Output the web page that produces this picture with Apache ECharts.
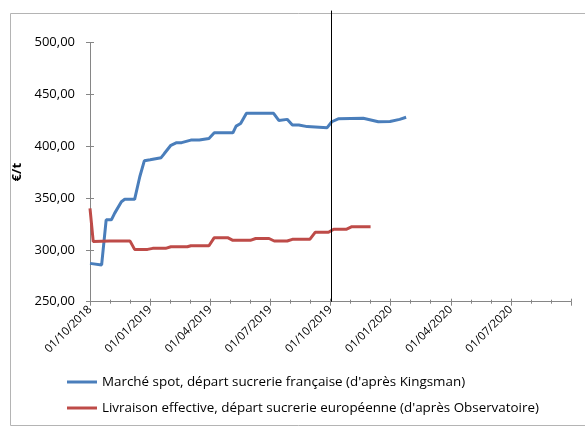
<!DOCTYPE html>
<html><head><meta charset="utf-8">
<script src="https://cdn.jsdelivr.net/npm/echarts@6/dist/echarts.min.js"></script>
<style>html,body{margin:0;padding:0;background:#fff}#c{width:585px;height:427px}</style>
</head><body><div id="c"></div>
<script>
// Data
const spotDates = ['2018-10-01','2018-10-19','2018-10-26','2018-11-03','2018-11-08','2018-11-18','2018-11-23','2018-12-08','2018-12-16','2018-12-23','2019-01-01','2019-01-18','2019-01-23','2019-02-02','2019-02-10','2019-02-17','2019-03-02','2019-03-15','2019-03-30','2019-04-07','2019-05-05','2019-05-10','2019-05-17','2019-05-26','2019-07-06','2019-07-14','2019-07-27','2019-08-04','2019-08-14','2019-08-27','2019-09-26','2019-10-03','2019-10-13','2019-11-20','2019-12-13','2019-12-31','2020-01-15','2020-01-25'];
const spotValues = [287,285.5,329,329,335.5,346.5,348.8,348.8,370.6,386,387,389,393,401,403.5,403.5,406,406,407.6,413,413,419.5,422,431.8,431.8,425,426,420.5,420.5,419,418,423.7,426.5,427,423.7,424,426,428];
const livDates = ['2018-10-01','2018-10-06','2018-10-31','2018-12-01','2018-12-08','2018-12-28','2019-01-05','2019-01-25','2019-02-02','2019-02-25','2019-03-02','2019-03-30','2019-04-07','2019-04-27','2019-05-05','2019-06-01','2019-06-09','2019-06-29','2019-07-07','2019-07-27','2019-08-04','2019-08-31','2019-09-08','2019-09-28','2019-10-06','2019-10-26','2019-11-03','2019-12-01'];
const livValues = [340,308,308.5,308.5,300.5,300.5,301.5,301.5,303,303,304,304,311.8,311.8,309.2,309.2,311,311,308.6,308.6,310.2,310.2,317,317,320,320,322.4,322.4];
const seriesNames = ["Marché spot, départ sucrerie française (d'après Kingsman)","Livraison effective, départ sucrerie européenne (d'après Observatoire)"];
const markerDate = '2019-10-01';
const markerTopValue = 531;
const yTicks = {min:250, max:500, step:50};
const xStart = {year:2018, month:10};
const xMonths = 24;

function toMonths(s){
  const [y,m,d] = s.split('-').map(Number);
  const dim = new Date(Date.UTC(y, m, 0)).getUTCDate();
  return (y - xStart.year)*12 + (m - xStart.month) + (d-1)/dim;
}
function monthLabel(v){
  if (v >= xMonths) return '';
  const idx = Math.round(v) + (xStart.month - 1);
  const y = xStart.year + Math.floor(idx/12);
  const m = (idx % 12) + 1;
  return '01/' + String(m).padStart(2,'0') + '/' + y;
}
const spotData = spotDates.map((d,i)=>[toMonths(d), spotValues[i]]);
const livData = livDates.map((d,i)=>[toMonths(d), livValues[i]]);

const font = '"Open Sans", sans-serif';
const axisCol = '#868686';
const chart = echarts.init(document.getElementById('c'), null, {renderer:'canvas'});
const xBase = {type:'value', min:0, max:xMonths, interval:3, gridIndex:0, splitLine:{show:false}};
const yBase = {type:'value', min:yTicks.min, max:yTicks.max, interval:yTicks.step, splitLine:{show:false}};
chart.setOption({
  animation:false,
  backgroundColor:'#fff',
  textStyle:{fontFamily:font},
  grid:{left:90, right:14, top:42.7, bottom:125.3, containLabel:false},
  graphic:[{type:'rect', shape:{x:10.5, y:13.5, width:600, height:412}, style:{fill:'none', stroke:'#b4b4b4', lineWidth:1}, z:-1}],
  xAxis:[
    Object.assign({}, xBase, {
      axisLine:{show:true, lineStyle:{color:axisCol, width:1}},
      axisTick:{show:true, inside:false, length:4, lineStyle:{color:axisCol}},
      minorTick:{show:true, splitNumber:3, length:2, lineStyle:{color:axisCol}},
      axisLabel:{rotate:45, margin:6, fontSize:11.5, color:'#000', fontFamily:font, formatter:monthLabel}
    }),
    Object.assign({}, xBase, {
      axisLine:{show:false},
      axisTick:{show:true, inside:true, length:3, lineStyle:{color:axisCol}},
      minorTick:{show:true, splitNumber:3, length:2, lineStyle:{color:axisCol}},
      axisLabel:{show:false}, position:'bottom'
    })
  ],
  yAxis:[
    Object.assign({}, yBase, {
      name:'€/t', nameLocation:'middle', nameGap:57, nameRotate:90,
      nameTextStyle:{fontWeight:'bold', fontSize:13, color:'#000', fontFamily:font},
      axisLine:{show:true, lineStyle:{color:axisCol, width:1}},
      axisTick:{show:true, inside:false, length:4, lineStyle:{color:axisCol}},
      axisLabel:{margin:15, fontSize:13, color:'#000', fontFamily:font, formatter:v=>v.toFixed(2).replace('.',',')}
    }),
    Object.assign({}, yBase, {
      position:'left',
      axisLine:{show:false},
      axisTick:{show:true, inside:true, length:4, lineStyle:{color:axisCol}},
      axisLabel:{show:false}
    })
  ],
  legend:{
    orient:'vertical', left:67, top:374, padding:0, itemWidth:30, itemHeight:3, itemGap:10, icon:'rect',
    textStyle:{fontSize:13.4, color:'#000', fontFamily:font, lineHeight:16},
    data:seriesNames
  },
  series:[
    {type:'custom', name:'marker', clip:false, z:5, silent:true,
     data:[[toMonths(markerDate), yTicks.min]],
     renderItem:function(params, api){
       const x = api.value(0);
       const p0 = api.coord([x, yTicks.min]);
       const p1 = api.coord([x, markerTopValue]);
       return {type:'line', shape:{x1:Math.round(p0[0])+0.5, y1:p0[1], x2:Math.round(p1[0])+0.5, y2:p1[1]}, style:{stroke:'#000', lineWidth:1}};
     }},
    {name:seriesNames[0], type:'line', data:spotData, symbol:'none', color:'#4a7ebb',
     lineStyle:{width:3, color:'#4a7ebb'}},
    {name:seriesNames[1], type:'line', data:livData, symbol:'none', color:'#be4b48',
     lineStyle:{width:3, color:'#be4b48'}}
  ]
});
</script></body></html>
